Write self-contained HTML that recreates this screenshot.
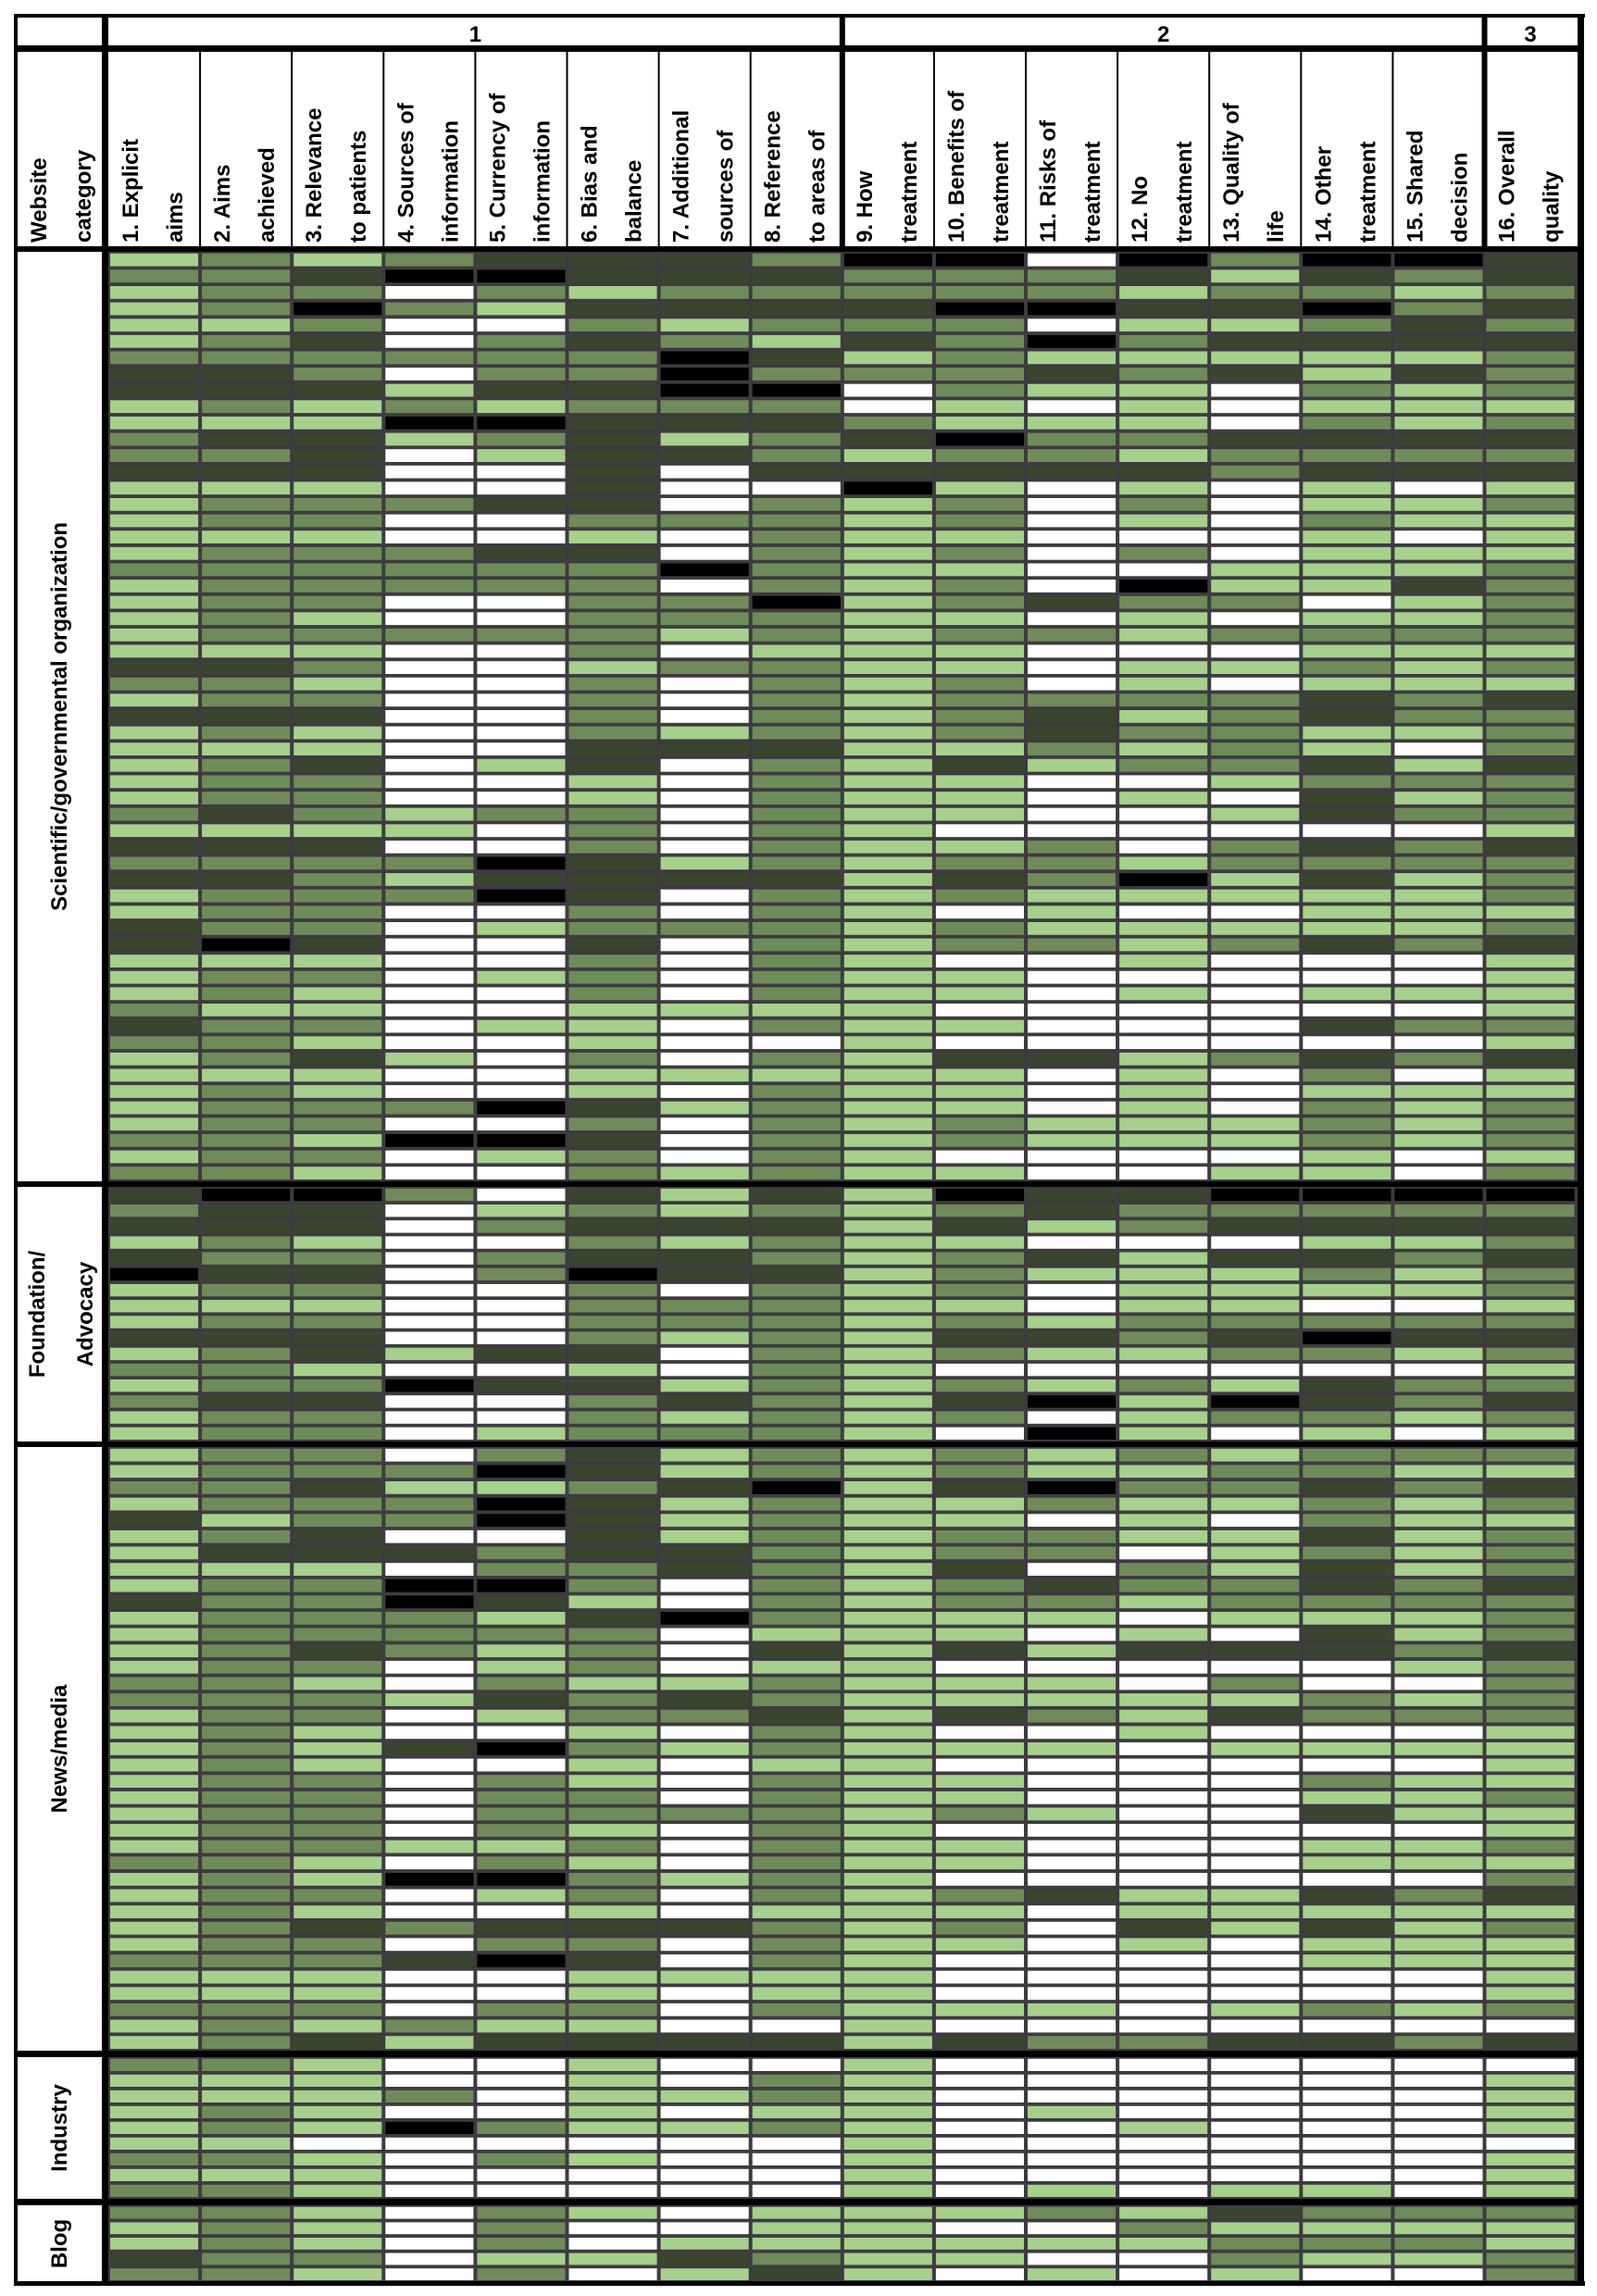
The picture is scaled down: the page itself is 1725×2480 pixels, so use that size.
<!DOCTYPE html>
<html><head><meta charset="utf-8"><style>
html,body{margin:0;padding:0;background:#fff;}
svg{display:block;}
text{font-family:"Liberation Sans",Arial,sans-serif;font-weight:bold;fill:#000;}
</style></head><body>
<svg id="chart" width="1725" height="2480" viewBox="0 0 1725 2480" xmlns="http://www.w3.org/2000/svg">
<rect x="0" y="0" width="1725" height="2480" fill="#fff"/>
<g id="cells"></g>
<g id="frame"></g>
<g id="labels"></g>
</svg>
<script>
// ---- data ----
const criteriaLine1 = ["1. Explicit","2. Aims","3. Relevance","4. Sources of","5. Currency of","6. Bias and","7. Additional","8. Reference","9. How","10. Benefits of","11. Risks of","12. No","13. Quality of","14. Other","15. Shared","16. Overall"];
const criteriaLine2 = ["aims","achieved","to patients","information","information","balance","sources of","to areas of","treatment","treatment","treatment","treatment","life","treatment","decision","quality"];
const sectionLabels = ["1","2","3"];
const sectionSpans = [8,7,1];
const groupNames = ["Scientific/governmental organization","Foundation/|Advocacy","News/media","Industry","Blog"];
// L = light green, M = medium, D = dark, K = black, W = white
const sciRows = [
"LMLMDDDMKKWKMKKD","MMDKKDDDMMMDLDMD","LMMWMLMMMMMLMMLM","LMKMLDDDDKKDDKMD","LLMWWMLMMMWLLMDM",
"LMDWMDMLDMKMDDDD","MMMMMMKDLMLLLLLM","DDMWMMKMMMDMDLDM","DDDLDDKKWMLLWMLM","LMLMLMMMWLWLWLLL",
"LLLKKDDDMLLLWMLM","MDDLMDLMDKMMDDDD","MMDWLDDMLMMLMMMM","DDDWWDWDDDDDMDDD","LLLWWDWWKLWLWLWL",
"LMMMDDWMLMWMWLLM","LMMWWMMMLMWLWMLL","LLLWWLWMLLWWWLWL","LMMMDDWMLMWMWLLL","MMMMMMKMLLWWLLLM",
"LMMMMMWMLMWKLLDM","LMMWWMMKLMDMMWLM","LMLWWMMMLLWLWLLM","LMMMMMLMLMMLMMMM","LLLWWMWLLLWWWLLL",
"DDMWWLMMLLWLLMLM","MMLWWMWMLMWLWLLL","LMMWWMWMLMMMMDMD","DDDWWMWMLMDLMDMM",
"LMLWWMLMLMDMMLLM","LLLWWDDDLLMLMLWM","LMDWLDWMLDLMMDLD","LMMWWLWMLLWWLMMM","LMMWWLWMLLWLWDLM",
"MDMLMMWMLLWWLDMM","LLLLWMWMLWWWWWWL","DDDWWMWMLLMWMDMD","MMMMKDLMLMMLMMMM","DDMLDDDDLDMKLDLM",
"LMMMKDWMLMLLLLLM","LMMWWMWMLWLWWLLL","DMMWLMMMLMLLLLLM","DKDWWDWMLMMLMDMD","LLLWWMWMLWWLWWWL",
"LMMWLMWMLLWWWWWL","LMLWWMWMLLWLWLLL","MLLWWLLLLWWWWWWL","DMMWLLWMLLWWWDMM","MMLWWLWWLWWWWWWL",
"LMDLWMWMLDDLMDMD","LLLWWLLLLLWLWMWL","LMLWWLWMLLWLWLLL","LMMMKDLMLLWLWMLM","LMMWWMWMLMLLLMLM",
"MMLKKDWMLMLLLMLM","LMMWLMWMLWWWWLWL","MMLWWMLMLLWWLLWM"];
const foundationRows = [
"DKKMWDLDLKDDKKKK","MDDWLMLMLMDMMMMM","DDDWMDDDLDLMDDDD","LMLWWMLMLLWWWLLM","DMMWMDDMLMDLDDMD",
"KDDWMKDDLMLLLMLM","LMMWWMWMLMWLLLLM","LLLWWMMMLLWLLWWL","LMMWWMMMLMLMMMMM","DDDWWMLMLDDMDKDD",
"LMDLDDWMLMLLMMLM","MMLWWLWMLWWWWWWL","LMMKDDLMLMLMLDMM","MDDWWMDMLDKLKDMD","LMMWWMLMLMWLMMLM",
"LMMWLMMMLWKLWLWL"];
const newsRows = [
"LMMWMDLMLMLMLMMM","LMMMKDLMLMLLMMLL","MMDLLMDKLDKMMDMD","LMMMKDLMLLMLLMLM","DLMMKDLMLLWLWMLL",
"LMDWWDLMLMMLLDLM","LDDDMDDMLMMWLMLM","LLLWMMDMLDWMLDLM","LMMKKMWMLMDMMDMD","DMMKDLWMLMMLMMMM",
"LMMMLDKMLLLWLLLM","LMMMMMWLLLWLWDLM","LMDMLMWDLDLDDDMD","LMMWLMWLLWWWWWLM","MMLWMLLMLLLWMWWM",
"MMMLDMDMLLLLLMLM","LMMWLMMDLDMLDMMM","LMLWWLWMLWWLWWWL","LMLDKMLMLLLWLLLL","LMLWWLWLLWWWWWWL",
"LMMWMLWMLLWWWMLL","LMMWMMWMLLWWWLLM","LMMWMMMMLMLWWDLL","LMMWMLWMLWWWWWWL","LMMLLMWMLLWWWLLM",
"MMLWMLWMLLWWWLLL","LMLKKMLMLWWWWWWM","LMMWLMWMLMDLLDMD","LMLWWLWLLLWLLLLL","LMDMDDDMLMWDLDLM",
"LMMWMMWMLLWLWLLL","MMMDKDWMLWWWWLLL","LLLWWLLLLWWWWWWL","LLLWWLWLLWWWWWWL","MMMWMMWMLLLWLMLM",
"LMLMLLWWLWWWWWWW","LMDLDDDDLDMMDDMD"];
const industryRows = [
"MMLWWLWWLWWWWWWW","LLLWWLWMLWWWWWWL","LLLMWLLMLWWWWWWL","LMLWWLWLLWLWWWWL","LMLKMLLMLWWLWWWL",
"LLWWWWWWLWWWWWWW","MMLWMLWWLWWWWWWL","LLLWWWWWLWWWWWWL","MMLWWWWWLWLWLLWL"];
const blogRows = [
"MMLWMLWLLLMLDMMM","LMLWMWWLLWWMLLLL","LMLWMWLLLLLLMMML","DMMWLLDMLLWWMLLM","MMLWMWLDLWLWLWWM"];
const groupData = [sciRows, foundationRows, newsRows, industryRows, blogRows];

// ---- layout ----
const X0 = 117, COLW = 99.1, LEFT = 17, RIGHT = 1710, TOP = 17, BOTTOM = 2466;
const groupTop = [272, 1282, 1563, 2222, 2382];
const groupBottom = [1276, 1557, 2215, 2375, 2465];
const palette = {L:"#a7d08c", M:"#6f8b5a", D:"#3a4530", K:"#000000", W:"#ffffff"};
const NS = "http://www.w3.org/2000/svg";
function xCol(c){ return X0 + c*COLW; }
function mk(tag, attrs){ const e=document.createElementNS(NS,tag); for(const k in attrs) e.setAttribute(k, attrs[k]); return e; }

const cells = document.getElementById('cells');
const frame = document.getElementById('frame');
const labels = document.getElementById('labels');

// grid background (gap colour)
const bg = mk('rect',{x:X0,y:groupTop[0],width:RIGHT-X0,height:BOTTOM-groupTop[0],fill:'#3d3b40'});


cells.appendChild(bg);

groupData.forEach((rows, g) => {
  const pitch = (groupBottom[g]-groupTop[g]) / rows.length;
  rows.forEach((row, r) => {
    for (let c = 0; c < row.length; c++) {
      const rect = mk('rect',{x:(xCol(c)+2).toFixed(1), y:(groupTop[g]+r*pitch+1.8).toFixed(1), width:(COLW-4).toFixed(1), height:(pitch-3.8).toFixed(1), fill:palette[row[c]]});
      
      
      cells.appendChild(rect);
    }
  });
});

function blk(x,y,w,h,name){
  const e = mk('rect',{x:x,y:y,width:w,height:h,fill:'#000'});
  
  
  frame.appendChild(e);
}
// outer frame
blk(LEFT-2,TOP-2,RIGHT-LEFT+4,4,'frame-top');
blk(LEFT-2,BOTTOM-2,RIGHT-LEFT+4,5,'frame-bottom');
blk(LEFT-2,TOP-2,4,BOTTOM-TOP+4,'frame-left');
blk(RIGHT-6,TOP-2,7,BOTTOM-TOP+4,'frame-right');
blk(110,TOP,7,BOTTOM-TOP,'category-column-divider');
blk(LEFT,49,RIGHT-LEFT,7,'section-row-divider');
blk(LEFT,266,RIGHT-LEFT,6,'header-bottom-divider');
for (let g = 0; g < groupTop.length-1; g++) blk(LEFT, groupBottom[g], RIGHT-LEFT, groupTop[g+1]-groupBottom[g], 'group-divider');
// header column lines
let acc = 0; const sectionEnds = sectionSpans.map(s => (acc += s));
for (let c = 1; c < 16; c++) {
  const thick = sectionEnds.includes(c);
  if (thick) blk(xCol(c)-3, TOP, 6, 255, 'section-divider');
  else blk(xCol(c)-1, 56, 2, 212, 'criterion-divider');
}

function txt(x,y,s,opts,name){
  const t = mk('text',Object.assign({x:x,y:y,'font-size':24},opts||{}));
  t.textContent = s;
  
  
  labels.appendChild(t);
  return t;
}
// section numbers
let start = 0;
sectionSpans.forEach((s,i) => {
  const cx = (xCol(start) + xCol(start+s)) / 2;
  txt(cx, 45, sectionLabels[i], {'text-anchor':'middle'}, 'section-number');
  start += s;
});
// header criteria (rotated)
function rot(x,y,s,name,anchor){
  const t = txt(0,0,s,{transform:`translate(${x},${y}) rotate(-90)`,'text-anchor':anchor||'start'},name);
  return t;
}
rot(50,262,'Website','category-header');
rot(98,262,'category','category-header');
for (let c = 0; c < 16; c++) {
  rot(xCol(c)+32, 262, criteriaLine1[c], 'criterion-header');
  rot(xCol(c)+80, 262, criteriaLine2[c], 'criterion-header');
}
// group labels
groupNames.forEach((n,g) => {
  const cy = (groupTop[g]+groupBottom[g])/2;
  const parts = n.split('|');
  if (parts.length === 1) rot(72, cy, parts[0], 'group-label', 'middle');
  else { rot(48, cy, parts[0], 'group-label', 'middle'); rot(100, cy, parts[1], 'group-label', 'middle'); }
});
</script>
</body></html>
